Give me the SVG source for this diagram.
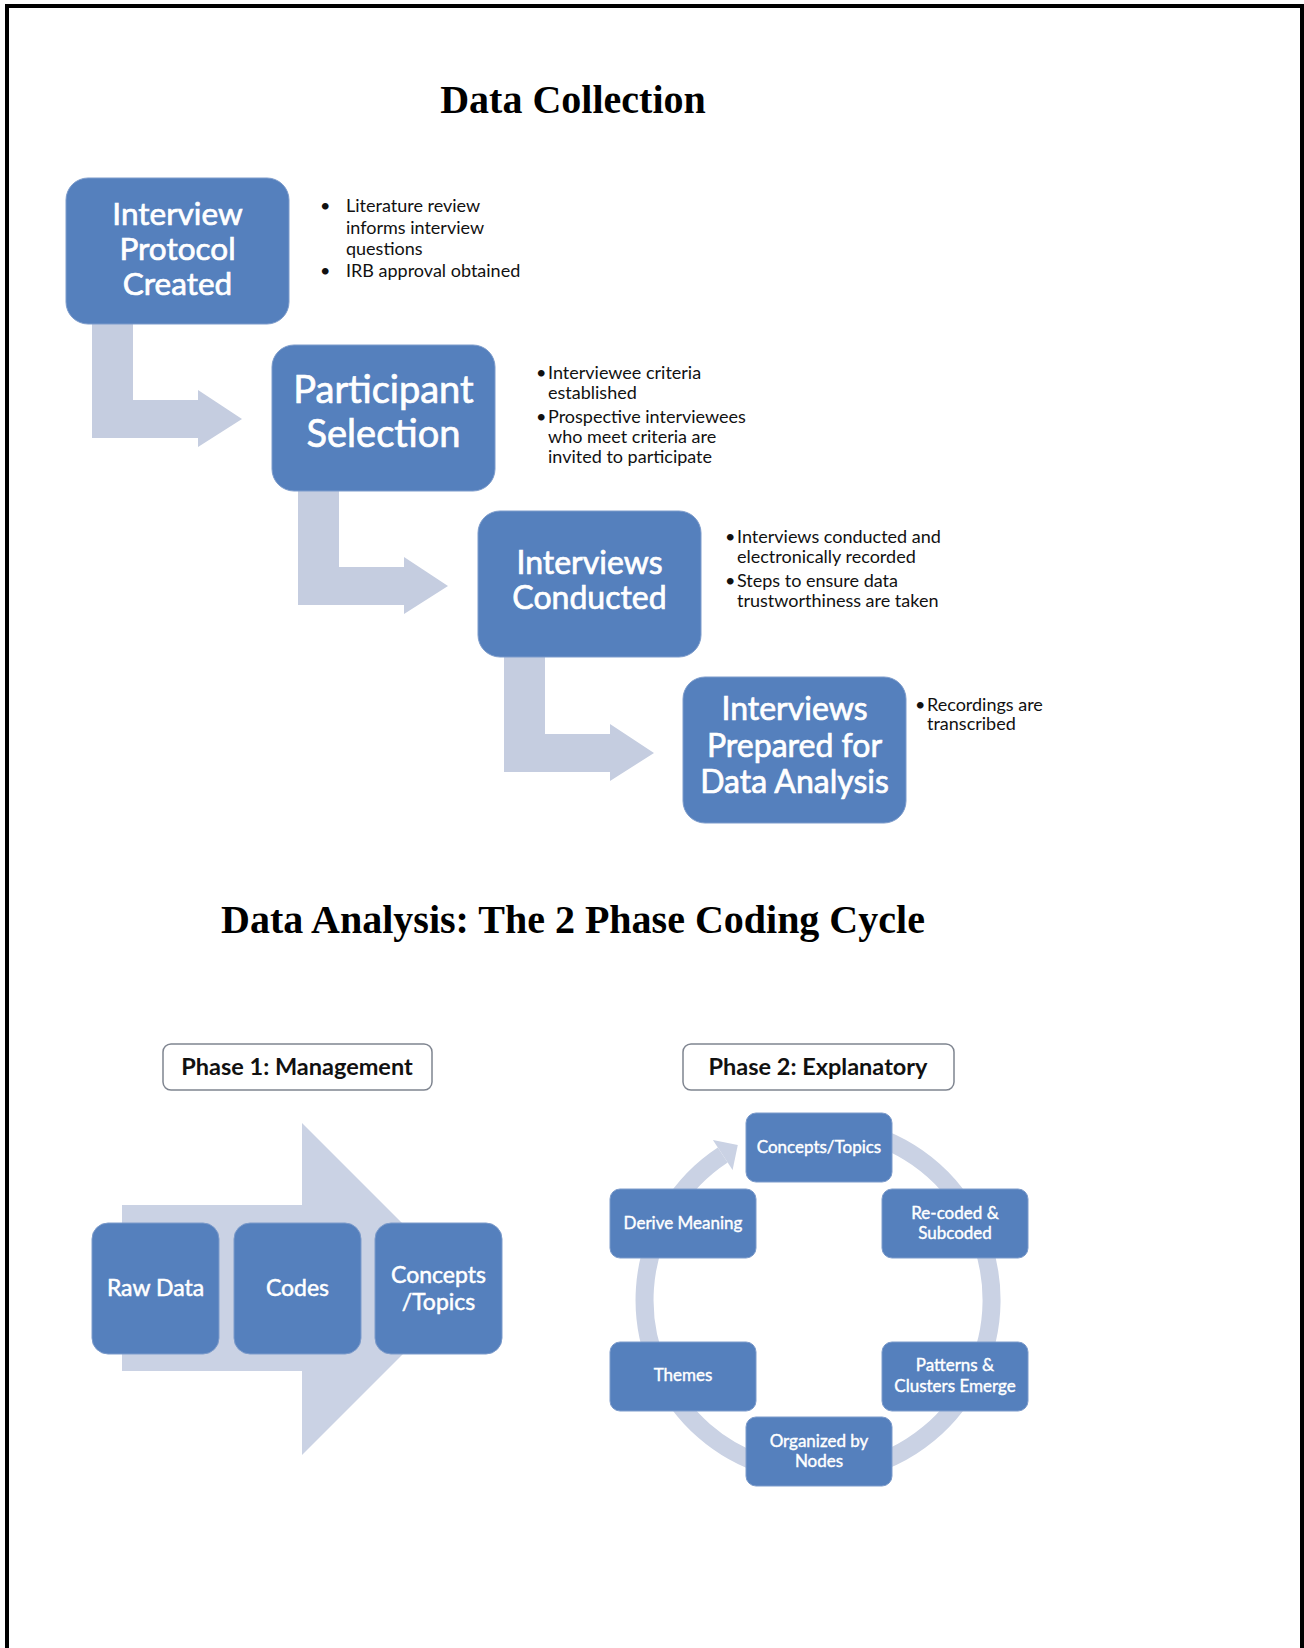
<svg xmlns="http://www.w3.org/2000/svg" width="1304" height="1648" viewBox="0 0 1304 1648">
<style>
.title{font-family:"Liberation Serif","Times New Roman",serif;font-weight:bold;font-size:40px;fill:#000;text-anchor:middle}
.box{fill:#5580BD;stroke:#7C9BCB;stroke-width:1}
.bt{font-family:Lato,"Noto Sans",sans-serif;fill:#fff;stroke:#fff;stroke-width:0.7;text-anchor:middle}
.bul{font-family:Lato,"Noto Sans",sans-serif;font-size:18px;fill:#111}
.arr{fill:#C5CDE0}
.big{fill:#CAD2E4}
.ph{fill:#fff;stroke:#7F8590;stroke-width:1.5}
.pht{font-family:Lato,"Noto Sans",sans-serif;font-weight:bold;font-size:23.5px;fill:#111;text-anchor:middle}
.n1t{font-family:Lato,"Noto Sans",sans-serif;font-size:23px;fill:#fff;stroke:#fff;stroke-width:0.5;text-anchor:middle}
.n2t{font-family:Lato,"Noto Sans",sans-serif;font-size:17px;fill:#fff;stroke:#fff;stroke-width:0.4;text-anchor:middle}
</style>
<path d="M7,1648 V6 H1302 V1648" fill="none" stroke="#000" stroke-width="4"/>
<text class="title" x="573" y="113">Data Collection</text>
<text class="title" x="573" y="933" font-size="40.5">Data Analysis: The 2 Phase Coding Cycle</text>
<g id="connectors">
<path class="arr" d="M92,310 H133 V400 H198 V390 L242,419 L198,447 V438 H92 Z"/>
<path class="arr" d="M298,477 H339 V567 H404 V557 L448,586 L404,614 V605 H298 Z"/>
<path class="arr" d="M504,644 H545 V734 H610 V724 L654,753 L610,781 V772 H504 Z"/>
<path class="big" d="M122,1205 H302 V1123 L468,1289 L302,1455 V1371 H122 Z"/>
<path d="M848.1,1129.1 A173.5,173.5 0 1 1 722.75,1155" fill="none" stroke="#CAD2E4" stroke-width="18"/>
<path class="big" d="M712.9,1139.9 L737.8,1145.1 L732.6,1170.1 Z"/>
</g>
<g id="n-protocol">
<rect class="box" x="66" y="178" width="223" height="146" rx="22"/>
<text class="bt" font-size="31.5"><tspan x="177.5" y="225">Interview</tspan><tspan x="177.5" y="260">Protocol</tspan><tspan x="177.5" y="295">Created</tspan></text>
</g>
<g id="t-protocol" class="bul">
<text x="320" y="212">•</text><text x="346" y="212">Literature review</text>
<text x="346" y="234">informs interview</text>
<text x="346" y="255">questions</text>
<text x="320" y="277">•</text><text x="346" y="277">IRB approval obtained</text>
</g>
<g id="n-participant">
<rect class="box" x="272" y="345" width="223" height="146" rx="22"/>
<text class="bt" font-size="38"><tspan x="383.5" y="403">Participant</tspan><tspan x="383.5" y="447">Selection</tspan></text>
</g>
<g id="t-participant" class="bul">
<text x="536" y="379">•</text><text x="548" y="379">Interviewee criteria</text>
<text x="548" y="399">established</text>
<text x="536" y="423">•</text><text x="548" y="423">Prospective interviewees</text>
<text x="548" y="443">who meet criteria are</text>
<text x="548" y="463">invited to participate</text>
</g>
<g id="n-conducted">
<rect class="box" x="478" y="511" width="223" height="146" rx="22"/>
<text class="bt" font-size="32"><tspan x="589.5" y="574">Interviews</tspan><tspan x="589.5" y="609">Conducted</tspan></text>
</g>
<g id="t-conducted" class="bul">
<text x="725" y="543">•</text><text x="737" y="543">Interviews conducted and</text>
<text x="737" y="563">electronically recorded</text>
<text x="725" y="587">•</text><text x="737" y="587">Steps to ensure data</text>
<text x="737" y="607">trustworthiness are taken</text>
</g>
<g id="n-prepared">
<rect class="box" x="683" y="677" width="223" height="146" rx="22"/>
<text class="bt" font-size="32"><tspan x="794.5" y="720">Interviews</tspan><tspan x="794.5" y="757">Prepared for</tspan><tspan x="794.5" y="793">Data Analysis</tspan></text>
</g>
<g id="t-prepared" class="bul">
<text x="915" y="711">•</text><text x="927" y="711">Recordings are</text>
<text x="927" y="730">transcribed</text>
</g>
<g id="phase1">
<rect class="ph" x="163" y="1044" width="269" height="46" rx="8"/>
<text class="pht" x="297" y="1075">Phase 1: Management</text>
</g>
<g id="n-rawdata"><rect class="box" x="92" y="1223" width="127" height="131" rx="16"/><text class="n1t" x="155.5" y="1296">Raw Data</text></g>
<g id="n-codes"><rect class="box" x="234" y="1223" width="127" height="131" rx="16"/><text class="n1t" x="297.5" y="1296">Codes</text></g>
<g id="n-concepts1"><rect class="box" x="375" y="1223" width="127" height="131" rx="16"/><text class="n1t"><tspan x="438.5" y="1283">Concepts</tspan><tspan x="438.5" y="1310">/Topics</tspan></text></g>
<g id="phase2">
<rect class="ph" x="683" y="1044" width="271" height="46" rx="8"/>
<text class="pht" x="818" y="1075">Phase 2: Explanatory</text>
</g>
<g id="n-concepts2"><rect class="box" x="746" y="1113" width="146" height="69" rx="10"/><text class="n2t" x="819" y="1153">Concepts/Topics</text></g>
<g id="n-recoded"><rect class="box" x="882" y="1189" width="146" height="69" rx="10"/><text class="n2t"><tspan x="955" y="1219">Re-coded &amp;</tspan><tspan x="955" y="1239">Subcoded</tspan></text></g>
<g id="n-patterns"><rect class="box" x="882" y="1342" width="146" height="69" rx="10"/><text class="n2t"><tspan x="955" y="1371">Patterns &amp;</tspan><tspan x="955" y="1392">Clusters Emerge</tspan></text></g>
<g id="n-organized"><rect class="box" x="746" y="1417" width="146" height="69" rx="10"/><text class="n2t"><tspan x="819" y="1447">Organized by</tspan><tspan x="819" y="1467">Nodes</tspan></text></g>
<g id="n-themes"><rect class="box" x="610" y="1342" width="146" height="69" rx="10"/><text class="n2t" x="683" y="1381">Themes</text></g>
<g id="n-derive"><rect class="box" x="610" y="1189" width="146" height="69" rx="10"/><text class="n2t" x="683" y="1229">Derive Meaning</text></g>
</svg>
